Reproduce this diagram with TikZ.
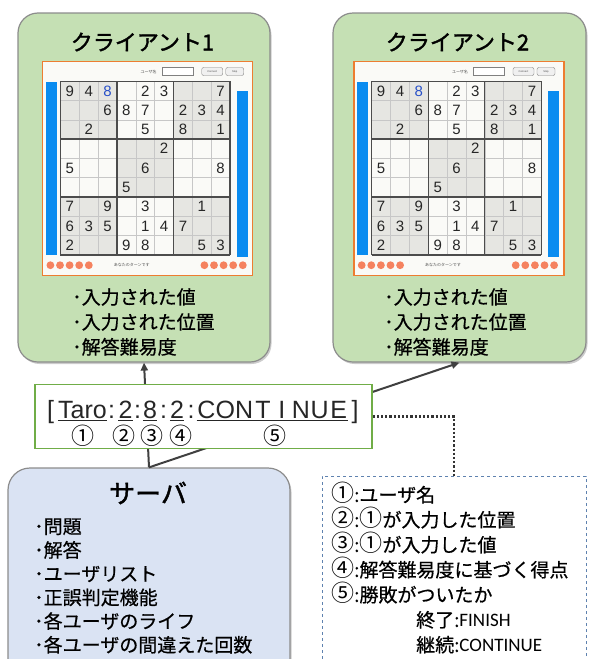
\documentclass[tikz,border=0pt]{standalone}
\usepackage{fontspec}
\setmainfont{Noto Sans CJK JP}[FakeBold=0.6]
\newfontfamily\jpheavy{Noto Sans CJK JP}[FakeBold=1.6]
\newfontfamily\jplight{Noto Sans CJK JP}
\newfontfamily\arialfont{Liberation Sans}
\newfontfamily\calibrifont{Carlito}
\usetikzlibrary{positioning,arrows.meta,shadows}

\definecolor{clientgreen}{RGB}{197,224,180}
\definecolor{serverblue}{RGB}{218,227,243}
\definecolor{msggreen}{RGB}{112,173,71}
\definecolor{legendline}{RGB}{95,130,175}
\definecolor{screenorange}{RGB}{237,125,49}
\definecolor{screenbg}{RGB}{250,250,247}
\definecolor{barblue}{RGB}{10,140,240}
\definecolor{dotorange}{RGB}{245,130,95}
\definecolor{cellgray}{RGB}{230,230,226}
\definecolor{digitblue}{RGB}{40,80,200}
\definecolor{linegray}{RGB}{64,64,64}

\newcommand{\cnum}[1]{{\jplight\fontsize{23}{25}\selectfont #1}}

\tikzset{
  boxshadow/.style={drop shadow={shadow xshift=1.5pt, shadow yshift=-2pt, fill=black!40, opacity=0.5}},
  client/.style={draw=black!45, line width=1.2pt, fill=clientgreen, rounded corners=20pt,
    minimum width=252pt, minimum height=349pt, boxshadow},
  server/.style={draw=black!45, line width=1.2pt, fill=serverblue, rounded corners=22pt,
    minimum width=282pt, minimum height=224pt, boxshadow},
  msgbox/.style={draw=msggreen, line width=1.2pt, fill=white, minimum width=337pt, minimum height=64pt},
  legendbox/.style={draw=legendline, dashed, line width=0.9pt, minimum width=264pt, minimum height=192pt},
  title/.style={font=\jpheavy\fontsize{22}{26}\selectfont, inner sep=0pt},
  srvtitle/.style={font=\jpheavy\fontsize{26}{30}\selectfont, inner sep=0pt},
  itemlist/.style={font=\fontsize{19}{25}\selectfont, align=left, anchor=west, inner sep=0pt},
  msgtext/.style={font=\arialfont\fontsize{25}{28}\selectfont, text=black!85, anchor=base, inner sep=0pt},
  circnum/.style={font=\jplight\fontsize{23}{24}\selectfont, inner sep=0pt},
  digit/.style={font=\arialfont\fontsize{15}{16}\selectfont, text=black!85, inner sep=0pt},
  tinytext/.style={font=\jplight\fontsize{4}{5}\selectfont, text=black!70, inner sep=0pt},
  conn/.style={draw=linegray, line width=2pt, -{Triangle[length=8pt,width=7pt]}},
  dotline/.style={draw=black!80, line width=2.2pt, dotted},
}

% screenshot of the game board, #1 = shift, #2 = name prefix
\newcommand{\drawboard}[2]{%
  \begin{scope}[shift={#1}]
    \draw[fill=screenbg, draw=screenorange, line width=1.5pt] (0,0) rectangle (210,214);
    % side bars
    \fill[barblue] (3,20) rectangle (14,193);
    \fill[barblue] (194,29) rectangle (205,195);
    % top controls
    \node[tinytext] (#2user) at (106,10) {ユーザ名};
    \draw[black!50, fill=white, line width=0.4pt] (119,6) rectangle (150,14);
    \draw[black!50, fill=black!6, rounded corners=2pt, line width=0.4pt] (159,6) rectangle (180,14);
    \draw[black!50, fill=black!6, rounded corners=2pt, line width=0.4pt] (183,6) rectangle (201,14);
    \node[tinytext, font=\arialfont\fontsize{2.6}{3}\selectfont] (#2conn) at (169.5,10) {Connect};
    \node[tinytext, font=\arialfont\fontsize{2.6}{3}\selectfont] (#2stop) at (192,10) {Stop};
    % life markers
    \foreach \i in {0,...,4} {
      \fill[dotorange] (7.7+9.6*\i,203.7) circle (3.9);
      \fill[dotorange] (161.7+9.6*\i,203.7) circle (3.9);
    }
    \node[tinytext] (#2turn) at (89,203.5) {あなたのターンです};
    % board
    \begin{scope}[shift={(17.7,19.7)}, x=18.85pt, y=-19.3pt]
      \foreach \bx/\by in {0/0,2/0,1/1,0/2,2/2}
        \fill[cellgray] (3*\bx,3*\by) rectangle (3*\bx+3,3*\by+3);
      \foreach \i in {0,...,9} {
        \draw[black!22, line width=0.5pt] (\i,0) -- (\i,9);
        \draw[black!22, line width=0.5pt] (0,\i) -- (9,\i);
      }
      \foreach \i in {0,3,6,9} {
        \draw[black!70, line width=1.3pt] (\i,0) -- (\i,9);
        \draw[black!70, line width=1.3pt] (0,\i) -- (9,\i);
      }
      \foreach \r/\c/\v in {1/1/9,1/2/4,1/5/2,1/6/3,1/9/7,
                            2/3/6,2/4/8,2/5/7,2/7/2,2/8/3,2/9/4,
                            3/2/2,3/5/5,3/7/8,3/9/1,
                            4/6/2,
                            5/1/5,5/5/6,5/9/8,
                            6/4/5,
                            7/1/7,7/3/9,7/5/3,7/8/1,
                            8/1/6,8/2/3,8/3/5,8/5/1,8/6/4,8/7/7,
                            9/1/2,9/4/9,9/5/8,9/8/5,9/9/3}
        \node[digit] (#2d\r\c) at (\c-0.5,\r-0.5) {\v};
      \node[digit, text=digitblue] (#2d13) at (2.5,0.5) {8};
    \end{scope}
  \end{scope}}

\begin{document}
\begin{tikzpicture}[x=1pt, y=-1pt]
  \useasboundingbox (0,0) rectangle (589,659);

  % clients
  \node[client] (c1) at (144,187.5) {};
  \node[client, minimum width=253pt] (c2) at (459.5,187.5) {};
  \node[title] (t1) at (142.5,42) {クライアント1};
  \node[title] (t2) at (457.5,42) {クライアント2};
  \drawboard{(42.7,61.5)}{a}
  \drawboard{(354,61.5)}{b}
  \node[itemlist] (l1) at (72,322) {･入力された値\\･入力された位置\\･解答難易度};
  \node[itemlist] (l2) at (384,322) {･入力された値\\･入力された位置\\･解答難易度};

  % server
  \node[server] (srv) at (149,580) {};
  \node[srvtitle] (st) at (148,493) {サーバ};
  \node[itemlist, font=\fontsize{19}{23.7}\selectfont] (sl) at (34,586)
    {･問題\\･解答\\･ユーザリスト\\･正誤判定機能\\･各ユーザのライフ\\･各ユーザの間違えた回数};

  % legend
  \node[legendbox] (leg) at (454,572) {};
  \node[itemlist] (ll) at (331,568)
    {\cnum{①}:ユーザ名\\\cnum{②}:\cnum{①}が入力した位置\\\cnum{③}:\cnum{①}が入力した値\\
     \cnum{④}:解答難易度に基づく得点\\\cnum{⑤}:勝敗がついたか\\
     \hspace*{85pt}終了:{\calibrifont FINISH}\\\hspace*{85pt}継続:{\calibrifont CONTINUE}};

  % connectors
  \draw[conn] (srv.north) -- (c1.south);
  \draw[conn] (srv.north) -- (c2.south);

  % message
  \node[msgbox] (msg) at (203.5,416.5) {};
  \node[msgtext] (lb) at (50.5,418) {[};
  \node[msgtext] (taro) at (82.5,418) {Taro};
  \node[msgtext] (k1) at (111.5,418) {:};
  \node[msgtext] (v1) at (125.5,418) {2};
  \node[msgtext] (k2) at (137.5,418) {:};
  \node[msgtext] (v2) at (150,418) {8};
  \node[msgtext] (k3) at (163.5,418) {:};
  \node[msgtext] (v3) at (177,418) {2};
  \node[msgtext] (k4) at (191,418) {:};
  \node[msgtext] (cont) at (272.5,418) {\foreach \ch in {C,O,N,T,I,N,U,E}{\makebox[18.9pt]{\ch}}};
  \node[msgtext] (rb) at (355,418) {]};
  \foreach \n in {taro,v1,v2,v3,cont}
    \draw[black!85, line width=1pt] ([yshift=-2pt]\n.base west) -- ([yshift=-2pt]\n.base east);
  \node[circnum] (n1) at (83,436) {①};
  \node[circnum] (n2) at (124,436) {②};
  \node[circnum] (n3) at (151.5,436) {③};
  \node[circnum] (n4) at (180.5,436) {④};
  \node[circnum] (n5) at (275,436) {⑤};

  \draw[dotline] (msg.east) -| (leg.north);
\end{tikzpicture}
\end{document}
